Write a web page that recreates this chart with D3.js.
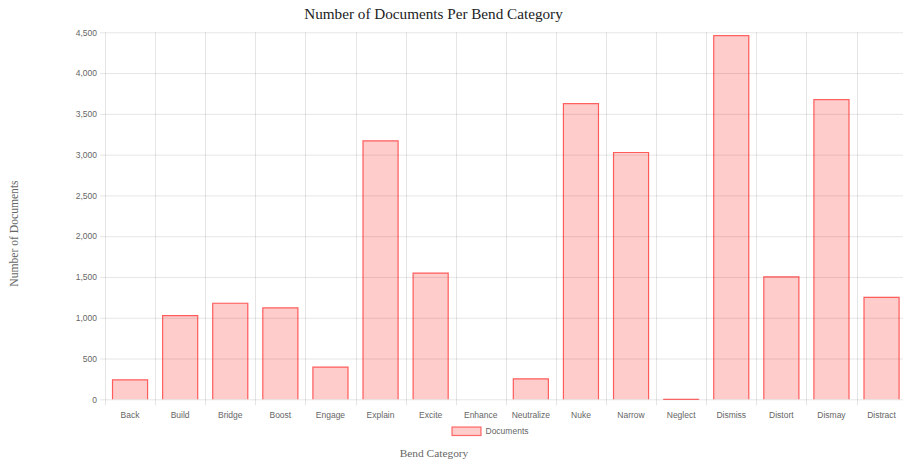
<!DOCTYPE html>
<html>
<head>
<meta charset="utf-8">
<script src="https://cdn.jsdelivr.net/npm/d3@7"></script>
<style>
  html, body { margin: 0; padding: 0; background: #fff; }
  svg { display: block; }
</style>
</head>
<body>
<svg id="chart" width="903" height="465"></svg>
<script>
const categories = ["Back", "Build", "Bridge", "Boost", "Engage", "Explain", "Excite", "Enhance",
  "Neutralize", "Nuke", "Narrow", "Neglect", "Dismiss", "Distort", "Dismay", "Distract"];
const documents = [245, 1033, 1184, 1127, 400, 3175, 1553, 0, 257, 3631, 3032, 6, 4465, 1508, 3680, 1257];
const yTicks = [0, 500, 1000, 1500, 2000, 2500, 3000, 3500, 4000, 4500];
const seriesName = "Documents";
const titleText = "Number of Documents Per Bend Category";
const xTitle = "Bend Category";
const yTitle = "Number of Documents";

(function () {
const svg = d3.select("#chart");
const pLeft = 105, pRight = 906.6, pTop = 32.3, pBottom = 399.3;

const x = d3.scaleBand().domain(categories).range([pLeft, pRight]).padding(0);
const y = d3.scaleLinear().domain([0, 4500]).range([pBottom, pTop]);

const gridColor = "rgba(0,0,0,0.1)";
const tickColor = "#666";
const sans = "'Liberation Sans', Arial, sans-serif";
const serif = "'Liberation Serif', 'Times New Roman', serif";

// horizontal grid
const yAxis = d3.axisLeft(y).tickValues(yTicks).tickSize(-(pRight - pLeft)).tickPadding(8)
  .tickFormat(d3.format(","));
const gy = svg.append("g").attr("transform", `translate(${pLeft},0)`).call(yAxis);
gy.select(".domain").remove();
gy.selectAll(".tick line").attr("stroke", gridColor).attr("x1", -5);
gy.selectAll(".tick text").attr("fill", tickColor).style("font-family", sans).style("font-size", "8.5px");

// vertical grid lines at category boundaries
const bounds = categories.map(c => x(c)).concat([pRight]);
svg.append("g").selectAll("line").data(bounds).join("line")
  .attr("x1", d => Math.round(d) + 0.5).attr("x2", d => Math.round(d) + 0.5)
  .attr("y1", pTop).attr("y2", pBottom + 6)
  .attr("stroke", gridColor);

// x labels
const xAxis = d3.axisBottom(x).tickSize(0).tickPadding(13);
const gx = svg.append("g").attr("transform", `translate(0,${pBottom})`).call(xAxis);
gx.select(".domain").remove();
gx.selectAll(".tick text").attr("fill", tickColor).style("font-family", sans).style("font-size", "8.5px");

// bars
const bw = x.bandwidth() * 0.72;
const bars = svg.append("g");
categories.forEach((c, i) => {
  const v = documents[i];
  if (v <= 0) return;
  const x0 = x(c) + (x.bandwidth() - bw) / 2;
  const y0 = y(v), y1 = y(0);
  bars.append("rect").attr("x", x0).attr("y", y0).attr("width", bw).attr("height", y1 - y0)
    .attr("fill", "rgba(255,0,0,0.2)");
  bars.append("path")
    .attr("d", `M${x0 + 0.5},${y1} L${x0 + 0.5},${y0 + 0.5} L${x0 + bw - 0.5},${y0 + 0.5} L${x0 + bw - 0.5},${y1}`)
    .attr("fill", "none").attr("stroke", "rgba(255,0,0,0.55)").attr("stroke-width", 1.2);
});

// title
svg.append("text").attr("x", 433.5).attr("y", 19).attr("text-anchor", "middle")
  .style("font-family", serif).style("font-size", "15.2px").attr("fill", "#222").text(titleText);

// legend
svg.append("rect").attr("x", 452).attr("y", 427).attr("width", 29).attr("height", 8.5)
  .attr("fill", "rgba(255,0,0,0.2)").attr("stroke", "rgba(255,0,0,0.55)").attr("stroke-width", 1.2);
svg.append("text").attr("x", 485.5).attr("y", 434).style("font-family", sans).style("font-size", "8.5px")
  .attr("fill", tickColor).text(seriesName);

// axis titles
svg.append("text").attr("x", 434).attr("y", 457).attr("text-anchor", "middle")
  .style("font-family", serif).style("font-size", "11.4px").attr("fill", "#666").text(xTitle);
svg.append("text").attr("transform", "translate(17.5,233.5) rotate(-90)").attr("text-anchor", "middle")
  .style("font-family", serif).style("font-size", "11.6px").attr("fill", "#666").text(yTitle);
})();
</script>
</body>
</html>
